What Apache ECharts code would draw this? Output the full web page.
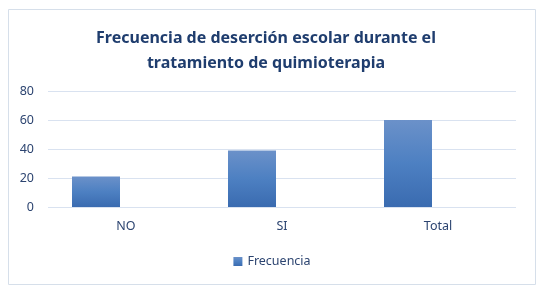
<!DOCTYPE html>
<html><head><meta charset="utf-8">
<script src="https://cdn.jsdelivr.net/npm/echarts@6/dist/echarts.min.js"></script>
<style>html,body{margin:0;padding:0;background:#fff}#c{width:544px;height:296px}</style>
</head><body><div id="c"></div>
<script>
const categories = ['NO', 'SI', 'Total'];
const frecuencia = [21, 39, 60];
const yTicks = [0, 20, 40, 60, 80];
const titleText = 'Frecuencia de deserción escolar durante el\ntratamiento de quimioterapia';

const chart = echarts.init(document.getElementById('c'), null, {renderer: 'canvas'});
chart.setOption({
  animation: false,
  backgroundColor: '#fff',
  graphic: [{type: 'rect', shape: {x: 8.5, y: 9.5, width: 527, height: 275},
    style: {fill: 'none', stroke: '#d6dfea', lineWidth: 1}, silent: true}],
  title: {
    text: titleText, left: 261, textAlign: 'center', top: 21,
    textStyle: {fontFamily: 'Noto Sans', fontWeight: 'bold', fontSize: 16, color: '#1F3D6E', lineHeight: 25}
  },
  legend: {
    data: ['Frecuencia'], left: 'center', top: 250, itemWidth: 9, itemHeight: 9, itemGap: 4,
    icon: 'rect',
    textStyle: {fontFamily: 'Noto Sans', fontSize: 12.5, color: '#2c4470'}
  },
  grid: {left: 48, right: 28, top: 91, height: 116, containLabel: false},
  xAxis: {
    type: 'category', data: categories,
    axisLine: {show: false}, axisTick: {show: false},
    axisLabel: {margin: 13, fontFamily: 'Noto Sans', fontSize: 12.5, color: '#2c4470'}
  },
  yAxis: {
    type: 'value', min: 0, max: 80, interval: 20,
    axisLine: {show: false}, axisTick: {show: false},
    splitLine: {lineStyle: {color: '#d9e2f0', width: 1}},
    axisLabel: {margin: 14, fontFamily: 'Noto Sans', fontSize: 12.5, color: '#2c4470',
      formatter: v => yTicks.includes(v) ? String(v) : ''}
  },
  series: [
    {name: 'Frecuencia', type: 'bar', data: frecuencia, barWidth: 48, barGap: '25%',
      itemStyle: {color: new echarts.graphic.LinearGradient(0, 0, 0, 1, [
        {offset: 0, color: '#6b91c9'}, {offset: 0.5, color: '#4d80c2'}, {offset: 1, color: '#3a6bb0'}])}},
    {name: 'vacío', type: 'bar', data: [null, null, null], barWidth: 48}
  ]
});
</script></body></html>
